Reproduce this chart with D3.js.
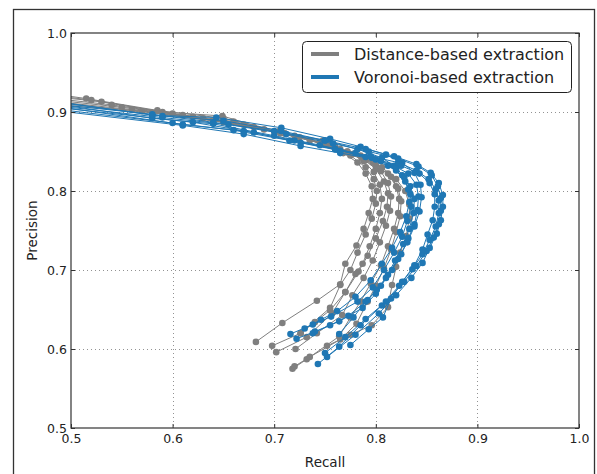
<!DOCTYPE html>
<html><head><meta charset="utf-8">
<script src="https://cdn.jsdelivr.net/npm/d3@7"></script>
<style>body{margin:0;background:#fff}svg{display:block}text{font-family:"DejaVu Sans",sans-serif;fill:#222}</style>
</head><body>
<svg id="c" width="597" height="474"></svg>
<script>
const xTicks=[0.5,0.6,0.7,0.8,0.9,1.0];
const yTicks=[0.5,0.6,0.7,0.8,0.9,1.0];
const seriesNames=["Distance-based extraction","Voronoi-based extraction"];
const seriesColors=["#7f7f7f","#1f77b4"];

// Distance-based extraction curves: [recall, precision]
const distanceCurves=[
 [[0.47,0.925],[0.515,0.917],[0.585,0.902],[0.65,0.892],[0.705,0.876],[0.745,0.862],[0.768,0.848],[0.782,0.836],[0.790,0.822],[0.796,0.806],[0.797,0.790],[0.793,0.772],[0.788,0.752],[0.781,0.731],[0.770,0.708],[0.765,0.682],[0.742,0.661],[0.708,0.633],[0.682,0.609]],
 [[0.47,0.921],[0.53,0.913],[0.60,0.898],[0.66,0.888],[0.71,0.873],[0.75,0.859],[0.775,0.845],[0.790,0.830],[0.798,0.815],[0.801,0.800],[0.800,0.784],[0.796,0.765],[0.790,0.745],[0.782,0.722],[0.775,0.700],[0.765,0.681],[0.755,0.652],[0.726,0.620],[0.698,0.604]],
 [[0.47,0.919],[0.54,0.909],[0.61,0.896],[0.67,0.884],[0.72,0.870],[0.76,0.856],[0.786,0.842],[0.800,0.828],[0.808,0.812],[0.812,0.797],[0.811,0.780],[0.807,0.762],[0.800,0.740],[0.792,0.718],[0.783,0.698],[0.770,0.672],[0.757,0.645],[0.732,0.615],[0.702,0.596]],
 [[0.47,0.917],[0.55,0.906],[0.62,0.894],[0.68,0.881],[0.725,0.868],[0.765,0.853],[0.790,0.839],[0.805,0.825],[0.812,0.810],[0.815,0.793],[0.814,0.775],[0.810,0.756],[0.804,0.735],[0.797,0.712],[0.788,0.690],[0.777,0.668],[0.767,0.643],[0.742,0.620],[0.721,0.600]],
 [[0.47,0.915],[0.56,0.903],[0.63,0.892],[0.69,0.878],[0.735,0.864],[0.772,0.850],[0.797,0.836],[0.812,0.822],[0.820,0.806],[0.823,0.790],[0.822,0.772],[0.818,0.752],[0.812,0.730],[0.805,0.706],[0.795,0.683],[0.785,0.660],[0.775,0.640],[0.764,0.616],[0.732,0.587],[0.718,0.575]],
 [[0.47,0.913],[0.57,0.901],[0.64,0.889],[0.70,0.875],[0.745,0.861],[0.778,0.847],[0.800,0.833],[0.815,0.818],[0.822,0.803],[0.825,0.787],[0.824,0.768],[0.820,0.748],[0.815,0.726],[0.808,0.702],[0.800,0.680],[0.792,0.660],[0.781,0.632],[0.765,0.612],[0.735,0.590],[0.720,0.578]],
 [[0.47,0.911],[0.58,0.899],[0.65,0.887],[0.71,0.873],[0.755,0.858],[0.785,0.845],[0.806,0.830],[0.820,0.815],[0.829,0.800],[0.833,0.783],[0.833,0.765],[0.830,0.743],[0.824,0.722],[0.820,0.704],[0.816,0.681],[0.812,0.653],[0.796,0.630],[0.775,0.618],[0.752,0.604]],
 [[0.47,0.923],[0.52,0.915],[0.59,0.900],[0.649,0.895],[0.706,0.873],[0.748,0.864],[0.772,0.850],[0.788,0.838],[0.798,0.824],[0.804,0.808],[0.806,0.790],[0.804,0.772],[0.800,0.752],[0.794,0.730],[0.787,0.708],[0.780,0.695],[0.770,0.672],[0.755,0.649],[0.740,0.634],[0.726,0.620]]
];

// Voronoi-based extraction curves: [recall, precision]
const voronoiCurves=[
 [[0.47,0.913],[0.58,0.892],[0.64,0.885],[0.70,0.870],[0.745,0.858],[0.78,0.848],[0.805,0.838],[0.820,0.826],[0.829,0.812],[0.834,0.796],[0.835,0.780],[0.831,0.762],[0.826,0.742],[0.818,0.722],[0.808,0.700],[0.797,0.678],[0.782,0.660],[0.756,0.641],[0.738,0.631],[0.716,0.619]],
 [[0.47,0.910],[0.61,0.884],[0.67,0.876],[0.72,0.864],[0.76,0.853],[0.79,0.843],[0.812,0.832],[0.826,0.820],[0.834,0.806],[0.838,0.790],[0.837,0.772],[0.833,0.752],[0.827,0.733],[0.819,0.712],[0.810,0.690],[0.800,0.670],[0.787,0.652],[0.764,0.635],[0.740,0.622],[0.722,0.613]],
 [[0.47,0.908],[0.62,0.887],[0.68,0.874],[0.726,0.861],[0.765,0.851],[0.796,0.842],[0.818,0.832],[0.832,0.822],[0.840,0.808],[0.842,0.793],[0.841,0.776],[0.838,0.758],[0.832,0.740],[0.825,0.720],[0.816,0.700],[0.805,0.680],[0.792,0.662],[0.773,0.642],[0.755,0.630],[0.738,0.620]],
 [[0.47,0.916],[0.58,0.896],[0.643,0.893],[0.707,0.880],[0.755,0.866],[0.785,0.856],[0.810,0.846],[0.826,0.836],[0.838,0.823],[0.844,0.808],[0.845,0.792],[0.843,0.774],[0.838,0.755],[0.831,0.735],[0.822,0.714],[0.812,0.694],[0.801,0.675],[0.790,0.660],[0.778,0.640],[0.764,0.619]],
 [[0.47,0.915],[0.59,0.895],[0.65,0.889],[0.707,0.876],[0.75,0.864],[0.782,0.853],[0.806,0.842],[0.820,0.830],[0.828,0.817],[0.832,0.802],[0.833,0.786],[0.830,0.768],[0.824,0.748],[0.816,0.728],[0.806,0.708],[0.795,0.687],[0.780,0.666],[0.762,0.648],[0.746,0.637],[0.730,0.626]],
 [[0.47,0.906],[0.60,0.886],[0.66,0.877],[0.715,0.864],[0.76,0.853],[0.795,0.844],[0.822,0.836],[0.840,0.826],[0.852,0.815],[0.859,0.802],[0.862,0.788],[0.862,0.772],[0.859,0.755],[0.853,0.738],[0.846,0.720],[0.836,0.701],[0.823,0.680],[0.806,0.655],[0.785,0.630],[0.764,0.603],[0.743,0.581]],
 [[0.47,0.910],[0.59,0.893],[0.655,0.884],[0.712,0.872],[0.758,0.860],[0.793,0.850],[0.822,0.841],[0.842,0.831],[0.855,0.820],[0.861,0.806],[0.864,0.791],[0.864,0.775],[0.862,0.758],[0.857,0.741],[0.850,0.724],[0.840,0.705],[0.828,0.685],[0.810,0.660],[0.790,0.638],[0.770,0.615],[0.750,0.595]],
 [[0.47,0.912],[0.58,0.897],[0.64,0.887],[0.70,0.876],[0.75,0.864],[0.79,0.853],[0.818,0.844],[0.840,0.834],[0.854,0.823],[0.862,0.810],[0.866,0.795],[0.866,0.780],[0.864,0.763],[0.860,0.746],[0.853,0.728],[0.846,0.709],[0.835,0.690],[0.820,0.668],[0.803,0.645],[0.780,0.618],[0.752,0.590]],
 [[0.47,0.904],[0.61,0.883],[0.67,0.872],[0.726,0.857],[0.765,0.848],[0.800,0.840],[0.825,0.832],[0.843,0.822],[0.853,0.810],[0.858,0.796],[0.858,0.780],[0.856,0.763],[0.851,0.745],[0.846,0.726],[0.838,0.706],[0.826,0.685],[0.815,0.664],[0.807,0.640],[0.793,0.625],[0.775,0.605]]
];

const svg=d3.select("#c");
const L=71,T=33,R=579,B=428;
const x=d3.scaleLinear().domain([0.5,1.0]).range([L,R]);
const y=d3.scaleLinear().domain([0.5,1.0]).range([B,T]);

// outer frame
svg.append("rect").attr("x",13.5).attr("y",9.5).attr("width",581).attr("height",475)
  .attr("fill","none").attr("stroke","#333").attr("stroke-width",1.3);

svg.append("clipPath").attr("id","clip").append("rect").attr("x",L).attr("y",T).attr("width",R-L).attr("height",B-T);

// grid
const g=svg.append("g");
g.selectAll(".gx").data(xTicks.slice(1,-1)).join("line").attr("x1",d=>Math.round(x(d))+0.5).attr("x2",d=>Math.round(x(d))+0.5)
  .attr("y1",T).attr("y2",B).attr("stroke","#777").attr("stroke-width",0.8).attr("stroke-dasharray","1,3");
g.selectAll(".gy").data(yTicks.slice(1,-1)).join("line").attr("y1",d=>Math.round(y(d))+0.5).attr("y2",d=>Math.round(y(d))+0.5)
  .attr("x1",L).attr("x2",R).attr("stroke","#777").attr("stroke-width",0.8).attr("stroke-dasharray","1,3");

const line=d3.line().x(d=>x(d[0])).y(d=>y(d[1]));
const plot=svg.append("g").attr("clip-path","url(#clip)");
[distanceCurves,voronoiCurves].forEach((curves,si)=>{
  const col=seriesColors[si];
  curves.forEach(c=>{
    plot.append("path").datum(c).attr("d",line).attr("fill","none").attr("stroke",col).attr("stroke-width",1);
    plot.selectAll(null).data(c).join("circle").attr("cx",d=>x(d[0])).attr("cy",d=>y(d[1])).attr("r",3.3).attr("fill",col);
  });
});

// axes
const xb=svg.append("g").attr("transform",`translate(0,${B})`).call(d3.axisBottom(x).tickValues(xTicks).tickFormat(d3.format(".1f")).tickSizeInner(-4).tickSizeOuter(0).tickPadding(6));
const xt=svg.append("g").attr("transform",`translate(0,${T})`).call(d3.axisTop(x).tickValues(xTicks).tickFormat("").tickSizeInner(-4).tickSizeOuter(0));
const yl=svg.append("g").attr("transform",`translate(${L},0)`).call(d3.axisLeft(y).tickValues(yTicks).tickFormat(d3.format(".1f")).tickSizeInner(-4).tickSizeOuter(0).tickPadding(4));
const yr=svg.append("g").attr("transform",`translate(${R},0)`).call(d3.axisRight(y).tickValues(yTicks).tickFormat("").tickSizeInner(-4).tickSizeOuter(0));
[xb,xt,yl,yr].forEach(a=>{a.select(".domain").remove();a.selectAll("line").attr("stroke","#333");a.selectAll("text").attr("font-size",12.5).attr("fill","#222").style("font-family","DejaVu Sans");});
svg.append("rect").attr("x",L).attr("y",T).attr("width",R-L).attr("height",B-T).attr("fill","none").attr("stroke","#333").attr("stroke-width",1.2);

svg.append("text").attr("x",(L+R)/2).attr("y",467).attr("text-anchor","middle").attr("font-size",13.5).text("Recall");
svg.append("text").attr("transform",`translate(37,${(T+B)/2}) rotate(-90)`).attr("text-anchor","middle").attr("font-size",13.5).text("Precision");

// legend
const lg=svg.append("g");
lg.append("rect").attr("x",302.5).attr("y",41.5).attr("width",269).attr("height",51).attr("rx",4)
  .attr("fill","#fff").attr("stroke","#222").attr("stroke-width",1);
seriesNames.forEach((n,i)=>{
  const yy=54+i*23;
  lg.append("line").attr("x1",311).attr("x2",339).attr("y1",yy).attr("y2",yy).attr("stroke",seriesColors[i]).attr("stroke-width",4);
  lg.append("text").attr("x",354).attr("y",yy).attr("dy","0.35em").attr("font-size",16).text(n);
});
</script>
</body></html>
